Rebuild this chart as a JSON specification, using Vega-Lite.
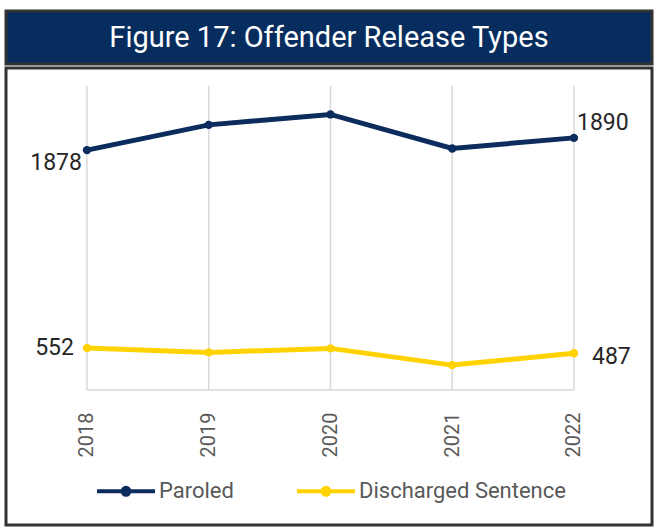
{
  "$schema": "https://vega.github.io/schema/vega-lite/v6.json",
  "padding": {"left": 4, "top": 9, "right": 4, "bottom": 8},
  "spacing": 0,
  "config": {"font": "Roboto", "concat": {"spacing": 0}},
  "vconcat": [
    {
      "width": 646,
      "height": 53,
      "view": {"fill": "#062d5e", "stroke": "#333333", "strokeWidth": 3},
      "data": {"values": [{"t": "Figure 17: Offender Release Types"}]},
      "mark": {"type": "text", "color": "#ffffff", "fontSize": 29, "fontWeight": "normal", "baseline": "middle", "font": "Roboto"},
      "encoding": {"text": {"field": "t"}}
    },
    {
      "width": 646,
      "height": 457,
      "view": {"fill": "#ffffff", "stroke": "#333333", "strokeWidth": 3},
      "data": {"values": [
        {"year": 2018, "series": "Paroled", "value": 1878, "label": "1878"},
        {"year": 2019, "series": "Paroled", "value": 2047, "label": ""},
        {"year": 2020, "series": "Paroled", "value": 2117, "label": ""},
        {"year": 2021, "series": "Paroled", "value": 1889, "label": ""},
        {"year": 2022, "series": "Paroled", "value": 1960, "label": "1890"},
        {"year": 2018, "series": "Discharged Sentence", "value": 552, "label": "552"},
        {"year": 2019, "series": "Discharged Sentence", "value": 523, "label": ""},
        {"year": 2020, "series": "Discharged Sentence", "value": 550, "label": ""},
        {"year": 2021, "series": "Discharged Sentence", "value": 438, "label": ""},
        {"year": 2022, "series": "Discharged Sentence", "value": 517, "label": "487"}
      ]},
      "encoding": {
        "x": {"field": "year", "type": "quantitative",
              "scale": {"domain": [2017.335, 2022.641], "nice": false, "zero": false},
              "axis": {"values": [2018, 2019, 2020, 2021, 2022], "format": "d", "title": null,
                       "grid": false, "domain": false, "ticks": false, "offset": -117,
                       "labelAngle": 270, "labelAlign": "right", "labelBaseline": "middle",
                       "labelPadding": 4, "labelFontSize": 20, "labelColor": "#595959", "labelFont": "Roboto"}}
      },
      "layer": [
        {
          "transform": [{"filter": "datum.series === 'Paroled'"}],
          "mark": {"type": "rule", "color": "#d9d9d9", "strokeWidth": 1.5},
          "encoding": {"y": {"datum": 271, "type": "quantitative", "scale": {"domain": [-633, 2428], "nice": false, "zero": false}, "axis": null}, "y2": {"datum": 2307}}
        },
        {
          "transform": [{"filter": "datum.series === 'Paroled' && datum.year === 2018"}],
          "mark": {"type": "rule", "color": "#d9d9d9", "strokeWidth": 1.5},
          "encoding": {"x": {"datum": 2018, "type": "quantitative"}, "x2": {"datum": 2022}, "y": {"datum": 271, "type": "quantitative"}}
        },
        {
          "mark": {"type": "line", "strokeWidth": 5},
          "encoding": {
            "y": {"field": "value", "type": "quantitative"},
            "color": {"field": "series", "type": "nominal",
                      "scale": {"domain": ["Paroled", "Discharged Sentence"], "range": ["#0b2c5c", "#ffd200"]},
                      "legend": {"orient": "none", "legendX": 89, "legendY": 449, "direction": "horizontal", "title": null,
                                 "symbolType": "M -1 0 L 1 0 M 0.12 0 A 0.12 0.12 0 1 1 -0.12 0 A 0.12 0.12 0 1 1 0.12 0 Z",
                                 "symbolSize": 3364, "symbolStrokeWidth": 4, "labelFontSize": 22, "labelColor": "#595959",
                                 "labelFont": "Roboto", "labelOffset": 2, "columnPadding": 55, "labelLimit": 400,
                                 "encode": {"symbols": {"update": {"fill": {"scale": "color", "field": "value"}, "stroke": {"scale": "color", "field": "value"}, "strokeWidth": {"value": 4}}}}}}
          }
        },
        {
          "mark": {"type": "point", "filled": true, "opacity": 1, "size": 70},
          "encoding": {
            "y": {"field": "value", "type": "quantitative"},
            "color": {"field": "series", "type": "nominal",
                      "legend": {"orient": "none", "legendX": 89, "legendY": 449, "direction": "horizontal", "title": null,
                                 "symbolType": "M -1 0 L 1 0 M 0.12 0 A 0.12 0.12 0 1 1 -0.12 0 A 0.12 0.12 0 1 1 0.12 0 Z",
                                 "symbolSize": 3364, "symbolStrokeWidth": 4, "labelFontSize": 22, "labelColor": "#595959",
                                 "labelFont": "Roboto", "labelOffset": 2, "columnPadding": 55, "labelLimit": 400,
                                 "encode": {"symbols": {"update": {"fill": {"scale": "color", "field": "value"}, "stroke": {"scale": "color", "field": "value"}, "strokeWidth": {"value": 4}}}}}}
          }
        },
        {
          "transform": [{"filter": "datum.series === 'Paroled' && datum.year === 2018"}],
          "mark": {"type": "text", "align": "right", "baseline": "middle", "dx": -5, "dy": 13, "fontSize": 23, "color": "#262626", "font": "Roboto"},
          "encoding": {"y": {"field": "value", "type": "quantitative"}, "text": {"field": "label"}}
        },
        {
          "transform": [{"filter": "datum.series === 'Discharged Sentence' && datum.year === 2018"}],
          "mark": {"type": "text", "align": "right", "baseline": "middle", "dx": -13, "dy": 0, "fontSize": 23, "color": "#262626", "font": "Roboto"},
          "encoding": {"y": {"field": "value", "type": "quantitative"}, "text": {"field": "label"}}
        },
        {
          "transform": [{"filter": "datum.series === 'Paroled' && datum.year === 2022"}],
          "mark": {"type": "text", "align": "left", "baseline": "middle", "dx": 3, "dy": -15, "fontSize": 23, "color": "#262626", "font": "Roboto"},
          "encoding": {"y": {"field": "value", "type": "quantitative"}, "text": {"field": "label"}}
        },
        {
          "transform": [{"filter": "datum.series === 'Discharged Sentence' && datum.year === 2022"}],
          "mark": {"type": "text", "align": "left", "baseline": "middle", "dx": 18, "dy": 4, "fontSize": 23, "color": "#262626", "font": "Roboto"},
          "encoding": {"y": {"field": "value", "type": "quantitative"}, "text": {"field": "label"}}
        }
      ]
    }
  ]
}
